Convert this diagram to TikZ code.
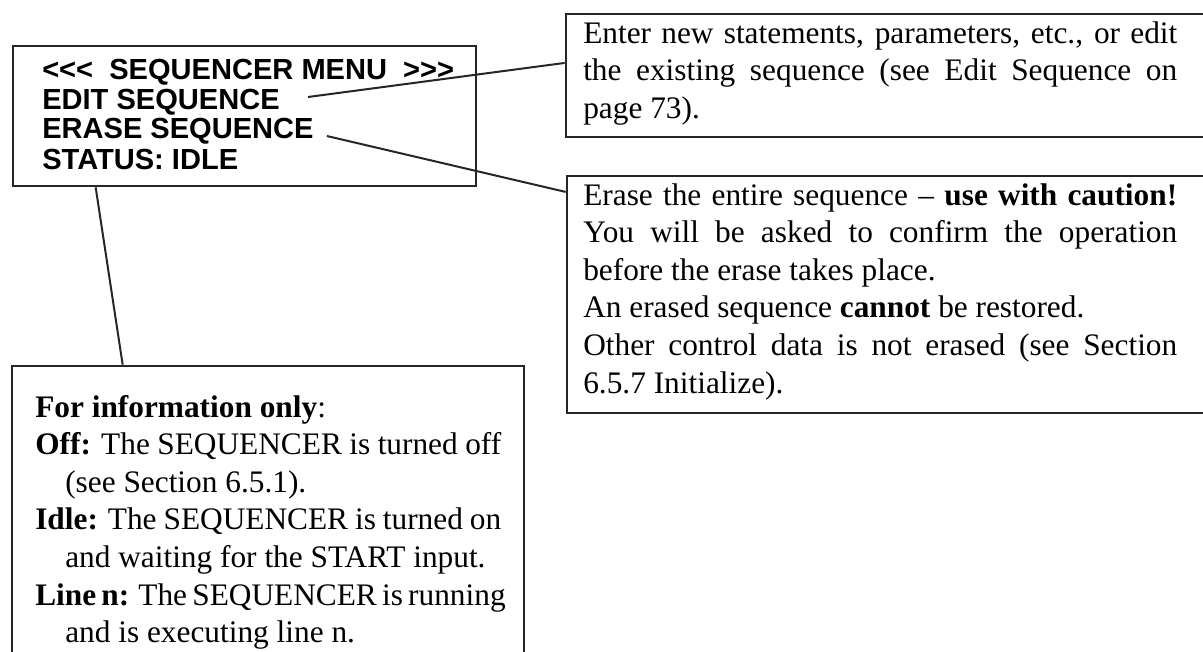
\documentclass[tikz,border=0pt]{standalone}
\usepackage{fontspec}
\setmainfont{Liberation Serif}
\newfontfamily\menufont{Liberation Sans}
\usetikzlibrary{calc,fit}
\newcommand{\jline}[2]{\makebox[#1][s]{#2}}
\begin{document}
\begin{tikzpicture}[x=0.75pt,y=-0.75pt,
  frame/.style={draw=black!85, line width=2pt, inner sep=0pt},
  lead/.style={draw=black!85, line width=1.5pt},
  menutxt/.style={anchor=base west, inner sep=0pt, font=\menufont\bfseries\fontsize{21.8pt}{22.5pt}\selectfont},
  bodytxt/.style={anchor=base west, inner sep=0pt, font=\fontsize{23.5pt}{28.2pt}\selectfont}
]
\useasboundingbox (0,0) rectangle (1203,651);
\clip (0,0) rectangle (1203,651);

% boxes
\node[frame, fit={(13,46) (476,186)}] (menu) {};
\node[frame, fit={(566,14) (1230,137)}] (enter) {};
\node[frame, fit={(567,176) (1230,413)}] (erase) {};
\node[frame, fit={(12,366) (524,700)}] (info) {};

% menu texts
\node[menutxt] (head) at (42,79) {<\kern0pt<\kern0pt<\ \ SEQUENCER MENU\ \ >\kern0pt>\kern0pt>};
\node[menutxt] (edit) at (42,109) {EDIT SEQUENCE};
\node[menutxt] (erasetxt) at (42,138) {ERASE SEQUENCE};
\node[menutxt] (status) at (42,169) {STATUS: IDLE};

% enter text
\node[bodytxt] (entertxt) at (583,43) {\parbox[t]{445.5pt}{%
\jline{\linewidth}{Enter new statements, parameters, etc., or edit}\\
\jline{\linewidth}{the existing sequence (see Edit Sequence on}\\
page 73).}};

% erase text
\node[bodytxt] (erasebody) at (583,205) {\parbox[t]{445.5pt}{%
\jline{\linewidth}{Erase the entire sequence -- \textbf{use with caution!}}\\
\jline{\linewidth}{You will be asked to confirm the operation}\\
before the erase takes place.\\
An erased sequence \textbf{cannot} be restored.\\
\jline{\linewidth}{Other control data is not erased (see Section}\\
6.5.7 Initialize).}};

% info text
\node[bodytxt] (infotxt) at (35,417) {\parbox[t]{349.5pt}{%
\textbf{For information only}:\\
\jline{\linewidth}{\textbf{Off:} The SEQUENCER is turned off}\\
\hspace*{22.5pt}(see Section 6.5.1).\\
\jline{\linewidth}{\textbf{Idle:} The SEQUENCER is turned on}\\
\hspace*{22.5pt}and waiting for the START input.\\
\jline{\linewidth}{\textbf{Line n:} The SEQUENCER is running}\\
\hspace*{22.5pt}and is executing line n.}};

% connectors
\coordinate (editstart) at ($(edit.base east)+(28,-12)$);
\coordinate (erasestart) at ($(erasetxt.base east)+(13,-2)$);
\coordinate (statusstart) at ($(menu.south west)+(84,0)$);
\draw[lead] (editstart) -- ($(enter.north west)!0.4!(enter.south west)$);
\draw[lead] (erasestart) -- ($(erase.north west)!0.072!(erase.south west)$);
\draw[lead] (statusstart) -- ($(info.north west)+(112,0)$);
\end{tikzpicture}
\end{document}
